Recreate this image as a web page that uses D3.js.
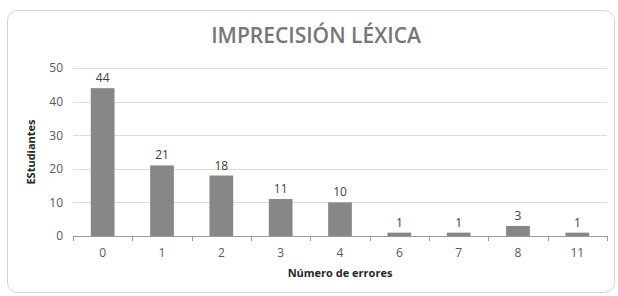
<!DOCTYPE html>
<html>
<head>
<meta charset="utf-8">
<script src="https://cdn.jsdelivr.net/npm/d3@7"></script>
<style>
  body { margin: 0; background: #fff; }
  svg { display: block; font-family: "Open Sans", sans-serif; }
</style>
</head>
<body>
<div id="chart"></div>
<script>
// data
var categories = ["0", "1", "2", "3", "4", "6", "7", "8", "11"];
var students = [44, 21, 18, 11, 10, 1, 1, 3, 1];
var yTicks = [0, 10, 20, 30, 40, 50];

var svgWidth = 618;
var svgHeight = 296;

var margin = { top: 68, right: 11, bottom: 60, left: 73 };
var cWidth = svgWidth - margin.left - margin.right;
var cHeight = svgHeight - margin.top - margin.bottom;

var svg = d3.select("#chart")
    .append("svg")
    .attr("width", svgWidth)
    .attr("height", svgHeight);

// chart frame
svg.append("rect")
    .attr("x", 7.5)
    .attr("y", 10.5)
    .attr("width", 607)
    .attr("height", 282)
    .attr("rx", 10)
    .attr("fill", "#fff")
    .attr("stroke", "#d4d4d4");

svg.append("text")
    .attr("x", 316)
    .attr("y", 43)
    .attr("text-anchor", "middle")
    .attr("font-size", 21)
    .attr("font-weight", 600)
    .attr("fill", "#767676")
    .text("IMPRECISIÓN LÉXICA");

var chartGroup = svg.append("g")
    .attr("transform", `translate(${margin.left}, ${margin.top})`);

var xScale = d3.scaleBand()
    .domain(categories)
    .range([0, cWidth])
    .paddingInner(0.6)
    .paddingOuter(0.3);

var yScale = d3.scaleLinear()
    .domain([0, 50])
    .range([cHeight, 0]);

// gridlines
chartGroup.selectAll(".grid")
    .data(yTicks.filter(t => t > 0))
    .enter()
    .append("line")
    .attr("x1", 0)
    .attr("x2", cWidth)
    .attr("y1", d => Math.round(yScale(d)) + 0.5)
    .attr("y2", d => Math.round(yScale(d)) + 0.5)
    .attr("stroke", "#dcdcdc");

// y tick labels
var leftAxis = d3.axisLeft(yScale).tickValues(yTicks).tickSize(0).tickPadding(10);
var yAxis = chartGroup.append("g").call(leftAxis);
yAxis.select(".domain").remove();
yAxis.selectAll("text")
    .attr("font-size", 12)
    .attr("fill", "#595959")
    .attr("font-family", "Open Sans, sans-serif");

// bars
chartGroup.selectAll(".bar")
    .data(students)
    .enter()
    .append("rect")
    .attr("x", (d, i) => xScale(categories[i]))
    .attr("y", d => yScale(d))
    .attr("width", xScale.bandwidth())
    .attr("height", d => cHeight - yScale(d))
    .attr("fill", "#878787");

// value labels
chartGroup.selectAll(".val")
    .data(students)
    .enter()
    .append("text")
    .attr("x", (d, i) => xScale(categories[i]) + xScale.bandwidth() / 2)
    .attr("y", d => yScale(d) - 6)
    .attr("text-anchor", "middle")
    .attr("font-size", 12)
    .attr("fill", "#404040")
    .text(d => d);

// x axis line with ticks between categories
chartGroup.append("line")
    .attr("x1", 0)
    .attr("x2", cWidth)
    .attr("y1", cHeight + 0.5)
    .attr("y2", cHeight + 0.5)
    .attr("stroke", "#9a9a9a");

var step = xScale.step();
chartGroup.selectAll(".tick-mark")
    .data(d3.range(categories.length + 1))
    .enter()
    .append("line")
    .attr("x1", i => Math.round(i * step) + 0.5)
    .attr("x2", i => Math.round(i * step) + 0.5)
    .attr("y1", cHeight)
    .attr("y2", cHeight + 5)
    .attr("stroke", "#9a9a9a");

chartGroup.selectAll(".xlab")
    .data(categories)
    .enter()
    .append("text")
    .attr("x", d => xScale(d) + xScale.bandwidth() / 2)
    .attr("y", cHeight + 21)
    .attr("text-anchor", "middle")
    .attr("font-size", 12)
    .attr("fill", "#595959")
    .text(d => d);

// axis titles
chartGroup.append("text")
    .attr("x", cWidth / 2)
    .attr("y", cHeight + 41)
    .attr("text-anchor", "middle")
    .attr("font-size", 11)
    .attr("font-weight", "bold")
    .attr("fill", "#262626")
    .text("Número de errores");

chartGroup.append("text")
    .attr("transform", "rotate(-90)")
    .attr("x", -cHeight / 2)
    .attr("y", -38)
    .attr("text-anchor", "middle")
    .attr("font-size", 11)
    .attr("font-weight", "bold")
    .attr("fill", "#262626")
    .text("EStudiantes");
</script>
</body>
</html>
